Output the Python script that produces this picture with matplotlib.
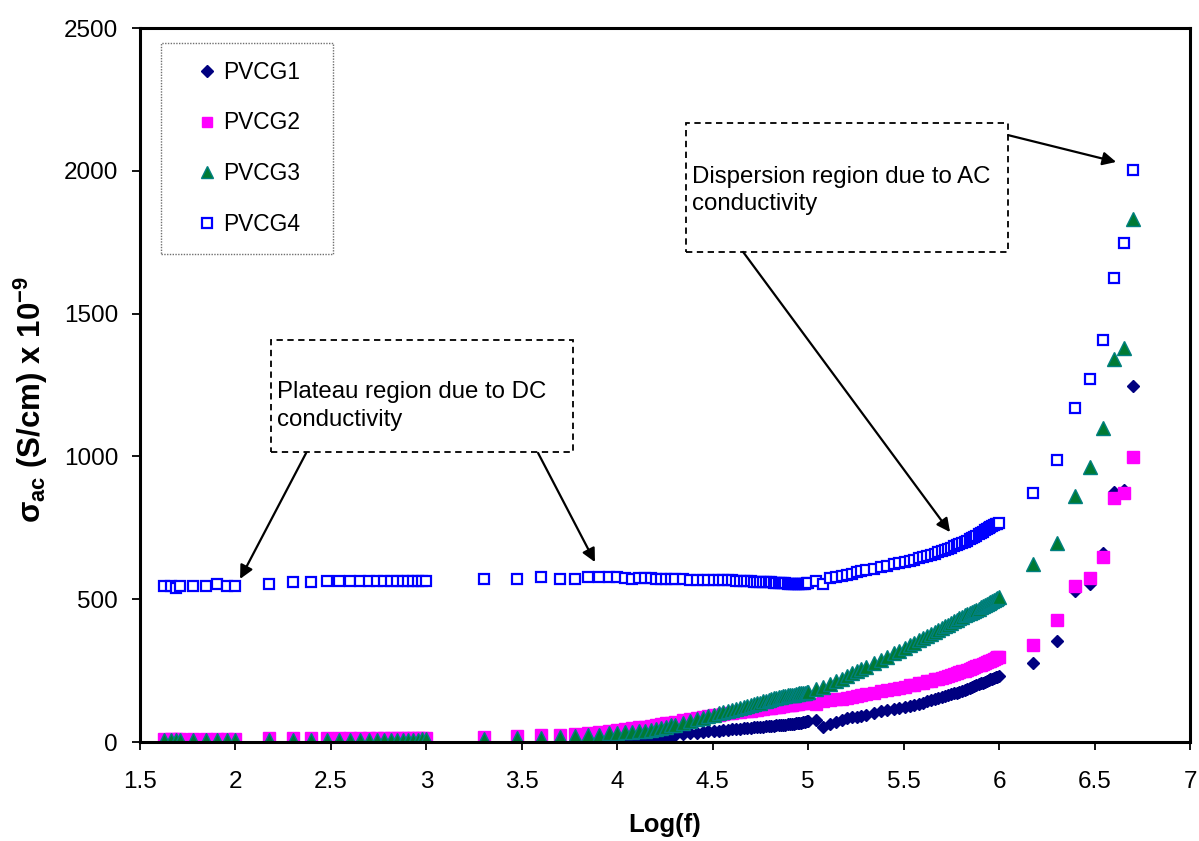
import numpy as np
import matplotlib
matplotlib.use("Agg")
import matplotlib.pyplot as plt
from matplotlib.patches import Rectangle

plt.rcParams['font.family'] = ['Liberation Sans', 'DejaVu Sans']
plt.rcParams['mathtext.fontset'] = 'custom'
plt.rcParams['mathtext.rm'] = 'Liberation Sans'
plt.rcParams['mathtext.bf'] = 'Liberation Sans:bold'

# measuring frequencies
freq_low = [42, 46, 49, 51, 60, 70, 80, 90, 100,
            150, 200, 250, 300, 350, 400, 450, 500, 550, 600, 650, 700, 750, 800, 850, 900, 950, 1000,
            2000, 3000, 4000, 5000, 6000, 7000, 8000, 9000, 10000]
dec4_khz = [11, 12, 13, 14, 15, 16, 17, 18, 19, 20,
            22, 24, 26, 28, 30, 32, 34, 36, 38, 40, 42, 44, 46, 48, 50,
            52, 54, 56, 58, 60, 62, 64, 66, 68, 70, 72, 74, 76, 78, 80,
            82, 84, 86, 88, 90, 92, 94, 96, 98, 100]
dec5_khz = [110, 120, 130, 140, 150, 160, 170, 180, 190, 200,
            220, 240, 260, 280, 300, 320, 340, 360, 380, 400, 420, 440, 460, 480, 500,
            520, 540, 560, 580, 600, 620, 640, 660, 680, 700, 720, 740, 760, 780, 800,
            820, 840, 860, 880, 900, 920, 940, 960, 980, 1000]
high_khz = [1500, 2000, 2500, 3000, 3500, 4000, 4500, 5000]

# sigma_ac x 1e-9 S/cm, one list per frequency block
g1_low = [3, 3, 3, 3, 3, 3, 3, 3, 3,
          3, 3, 3, 3, 3, 3, 3, 3, 3, 3, 3, 3, 3, 3, 3, 3, 3, 4,
          4, 4, 5, 5, 6, 6, 7, 7, 8]
g1_dec4 = [9, 10, 12, 13, 14, 16, 18, 20, 22, 24,
           28, 31, 33, 35, 37, 38, 40, 42, 43, 45, 46, 47, 48, 49, 50,
           51, 52, 54, 54, 55, 56, 56, 57, 58, 59, 60, 60, 61, 62, 63,
           64, 64, 65, 66, 67, 68, 69, 70, 72, 74]
g1_dec5 = [78, 54, 64, 70, 76, 83, 86, 89, 92, 96,
           102, 108, 112, 116, 119, 123, 127, 131, 134, 138, 142, 147, 151, 154, 157,
           161, 164, 167, 170, 173, 176, 179, 183, 186, 190, 193, 197, 200, 203, 205,
           208, 211, 214, 217, 219, 222, 224, 227, 229, 232]
g1_high = [278, 355, 528, 553, 663, 876, 882, 1247]

g2_low = [12, 12, 12, 12, 12, 12, 12, 12, 12,
          13, 13, 13, 13, 13, 13, 13, 13, 13, 14, 14, 14, 14, 14, 14, 14, 14, 15,
          18, 21, 24, 26, 29, 32, 35, 39, 43]
g2_dec4 = [45, 48, 51, 54, 56, 59, 62, 65, 68, 71,
           76, 80, 84, 88, 91, 94, 96, 98, 100, 102, 104, 105, 107, 109, 110,
           112, 113, 115, 116, 118, 119, 120, 122, 123, 124, 125, 127, 128, 129, 130,
           131, 132, 133, 134, 135, 136, 137, 138, 139, 140]
g2_dec5 = [133, 142, 146, 149, 152, 155, 158, 161, 164, 167,
           172, 177, 182, 186, 190, 194, 198, 201, 205, 208, 212, 215, 219, 222, 225,
           229, 232, 235, 238, 241, 244, 247, 250, 253, 256, 259, 263, 266, 269, 271,
           274, 277, 280, 283, 285, 288, 291, 293, 296, 298]
g2_high = [340, 428, 546, 575, 649, 853, 871, 999]

g3_low = [8, 8, 8, 8, 8, 8, 8, 8, 8,
          8, 8, 8, 8, 8, 8, 8, 8, 8, 8, 8, 8, 8, 8, 8, 8, 9, 9,
          10, 13, 15, 17, 20, 23, 26, 30, 33]
g3_dec4 = [34, 36, 38, 40, 43, 46, 50, 54, 58, 61,
           66, 72, 79, 85, 91, 95, 100, 104, 108, 112, 115, 118, 122, 125, 128,
           132, 135, 138, 142, 145, 148, 150, 153, 155, 156, 158, 160, 162, 163, 164,
           165, 166, 168, 169, 170, 171, 172, 173, 174, 175]
g3_dec5 = [185, 194, 204, 213, 222, 232, 240, 248, 256, 263,
           276, 288, 299, 310, 320, 329, 339, 347, 356, 364, 372, 379, 386, 393, 399,
           405, 411, 417, 423, 428, 433, 438, 443, 447, 451, 455, 459, 463, 467, 471,
           475, 478, 482, 486, 489, 493, 496, 499, 503, 506]
g3_high = [622, 698, 862, 962, 1098, 1341, 1381, 1832]

g4_low = [547, 546, 540, 546, 547, 547, 553, 547, 547,
          553, 559, 559, 565, 565, 565, 565, 565, 565, 565, 565, 565, 565, 565, 565, 565, 565, 565,
          571, 570, 577, 571, 571, 578, 577, 577, 577]
g4_dec4 = [575, 572, 576, 574, 573, 572, 572, 571, 571, 570,
           570, 569, 569, 568, 568, 567, 567, 567, 566, 566, 565, 565, 564, 563, 563,
           562, 562, 561, 560, 560, 559, 559, 558, 558, 557, 557, 556, 556, 555, 555,
           555, 554, 554, 554, 554, 554, 555, 555, 556, 558]
g4_dec5 = [565, 552, 573, 578, 582, 585, 590, 594, 598, 601,
           607, 613, 618, 622, 626, 630, 635, 639, 643, 648, 652, 656, 660, 664, 668,
           673, 677, 681, 685, 689, 693, 697, 701, 705, 711, 715, 719, 723, 728, 733,
           737, 741, 745, 749, 752, 756, 759, 762, 765, 768]
g4_high = [871, 987, 1169, 1270, 1406, 1623, 1746, 2002]

labels = ['PVCG1', 'PVCG2', 'PVCG3', 'PVCG4']

freq = np.concatenate([freq_low, np.array(dec4_khz) * 1e3,
                       np.array(dec5_khz) * 1e3, np.array(high_khz) * 1e3])
logf = np.log10(freq)
pvcg1 = g1_low + g1_dec4 + g1_dec5 + g1_high
pvcg2 = g2_low + g2_dec4 + g2_dec5 + g2_high
pvcg3 = g3_low + g3_dec4 + g3_dec5 + g3_high
pvcg4 = g4_low + g4_dec4 + g4_dec5 + g4_high

fig = plt.figure(figsize=(11.99, 8.41), dpi=100)
ax = fig.add_axes([0.1168, 0.1177, 0.8757, 0.849])

ax.plot(logf, pvcg1, ls='none', marker='D', ms=6.6, mfc='#000080', mec='#000080', label=labels[0])
ax.plot(logf, pvcg2, ls='none', marker='s', ms=8.2, mfc='#FF00FF', mec='#FF00FF', label=labels[1])
ax.plot(logf, pvcg3, ls='none', marker='^', ms=10.0, mfc='#007A33', mec='#008080', mew=1.0, label=labels[2])
ax.plot(logf, pvcg4, ls='none', marker='s', ms=7.6, mfc='white', mec='#0000FF', mew=1.6, label=labels[3])

ax.set_xlim(1.5, 7)
ax.set_ylim(0, 2500)
ax.set_xticks(np.arange(1.5, 7.01, 0.5))
ax.set_xticklabels(['1.5', '2', '2.5', '3', '3.5', '4', '4.5', '5', '5.5', '6', '6.5', '7'])
ax.set_yticks(np.arange(0, 2501, 500))
ax.tick_params(axis='both', direction='out', length=5.8, width=1.3, labelsize=17.5, color='black')
ax.tick_params(axis='x', pad=15)
ax.tick_params(axis='y', pad=10)
for sp in ax.spines.values():
    sp.set_linewidth(2.2)
    sp.set_color('black')

ax.set_xlabel('Log(f)', fontsize=18.5, fontweight='bold')
ax.xaxis.set_label_coords(0.5, -0.1)
ax.set_ylabel('σ$_{\\mathbf{ac}}$ (S/cm) x 10$^{\\mathbf{-9}}$', fontsize=22.5, fontweight='bold')
ax.yaxis.set_label_coords(-0.086, 0.48)

leg = ax.legend(loc='upper left', bbox_to_anchor=(0.0197, 0.5, 0.1644, 0.4794), mode='expand',
                borderaxespad=0, fontsize=16.4, labelspacing=1.21, borderpad=0.8,
                handlelength=2.45, handletextpad=-0.5, numpoints=1, markerscale=0.9,
                fancybox=False, framealpha=1)
leg.get_frame().set_edgecolor('#707070')
leg.get_frame().set_linewidth(1.0)
leg.get_frame().set_linestyle((0, (1, 1)))

# callout boxes
dash = (0, (3.5, 2.5))
ax.add_patch(Rectangle((2.186, 1015), 3.768 - 2.186, 1408 - 1015, fill=False,
                       ec='black', lw=1.3, ls=dash, zorder=5))
ax.text(2.216, 1178, 'Plateau region due to DC\nconductivity', fontsize=17.3,
        ha='left', va='center', linespacing=1.35, zorder=6)
ax.add_patch(Rectangle((4.360, 1716), 6.047 - 4.360, 2167 - 1716, fill=False,
                       ec='black', lw=1.3, ls=dash, zorder=5))
ax.text(4.392, 1931, 'Dispersion region due to AC\nconductivity', fontsize=17.3,
        ha='left', va='center', linespacing=1.35, zorder=6)

arrow = dict(arrowstyle='-|>', color='black', lw=1.6, mutation_scale=20, shrinkA=0, shrinkB=0)
ax.annotate('', xy=(2.024, 571), xytext=(2.370, 1012), arrowprops=arrow)
ax.annotate('', xy=(3.883, 630), xytext=(3.585, 1012), arrowprops=arrow)
ax.annotate('', xy=(5.743, 735), xytext=(4.659, 1716), arrowprops=arrow)
ax.annotate('', xy=(6.613, 2031), xytext=(6.047, 2125), arrowprops=arrow)

fig.savefig('out.png', dpi=100)
